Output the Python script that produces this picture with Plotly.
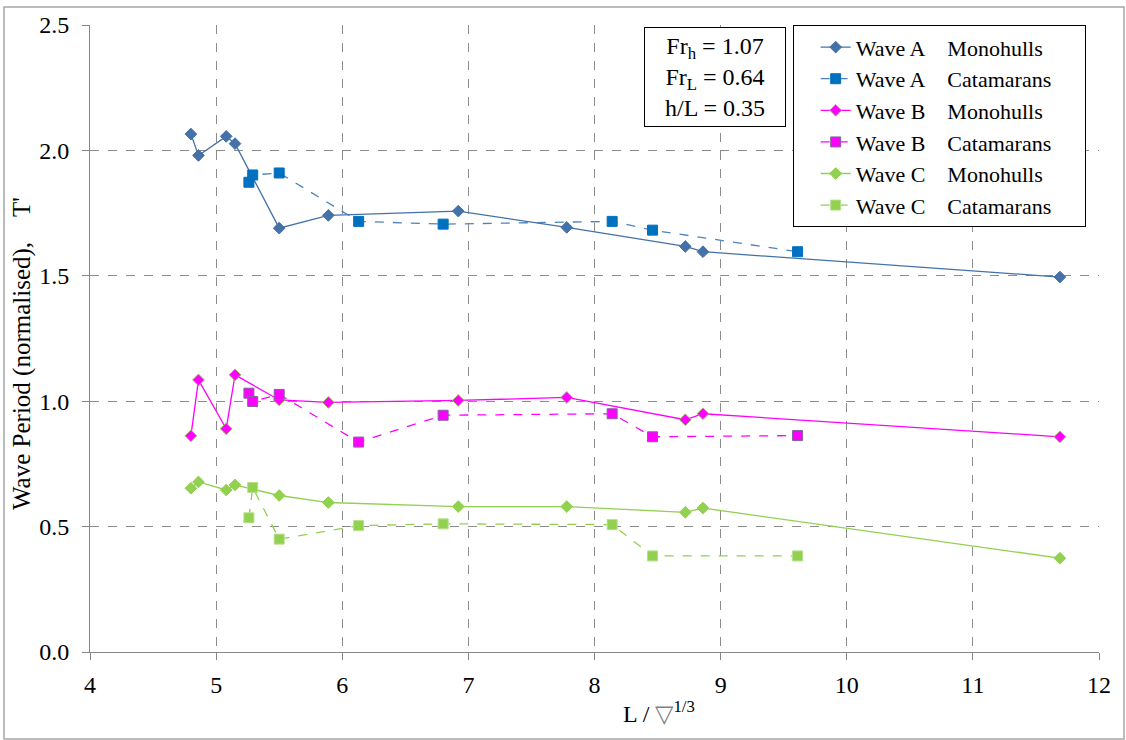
import plotly.graph_objects as go

# Slenderness ratio L / vol^(1/3) for each hull series
mono_x = [4.80, 4.86, 5.08, 5.15, 5.50, 5.89, 6.92, 7.78, 8.72, 8.86, 11.69]
cat_x = [5.26, 5.29, 5.50, 6.13, 6.80, 8.14, 8.46, 9.61]

# Normalised wave period T'
wave_a_mono = [2.065, 1.980, 2.056, 2.027, 1.690, 1.741, 1.758, 1.693, 1.617, 1.596, 1.495]
wave_a_cat = [1.873, 1.902, 1.910, 1.717, 1.706, 1.717, 1.682, 1.596]
wave_b_mono = [0.862, 1.085, 0.890, 1.105, 1.005, 0.995, 1.003, 1.015, 0.926, 0.950, 0.858]
wave_b_cat = [1.032, 0.999, 1.027, 0.837, 0.944, 0.950, 0.858, 0.863]
wave_c_mono = [0.653, 0.678, 0.646, 0.666, 0.624, 0.596, 0.580, 0.580, 0.557, 0.574, 0.374]
wave_c_cat = [0.535, 0.656, 0.450, 0.504, 0.511, 0.508, 0.383, 0.383]

NB = "\u00a0"
names = [
    "Wave A" + NB * 4 + "Monohulls",
    "Wave A" + NB * 4 + "Catamarans",
    "Wave B" + NB * 4 + "Monohulls",
    "Wave B" + NB * 4 + "Catamarans",
    "Wave C" + NB * 4 + "Monohulls",
    "Wave C" + NB * 4 + "Catamarans",
]

FONT = "Liberation Serif"

fig = go.Figure()

series = [
    (mono_x, wave_a_mono, names[0], "solid", "#4472A8", "diamond", 9, "#4472A8", "#4472A8"),
    (cat_x, wave_a_cat, names[1], "dash", "#4F81BD", "square", 10, "#0070C0", "#0070C0"),
    (mono_x, wave_b_mono, names[2], "solid", "#FF00FF", "diamond", 9, "#FF00FF", "#9BBB59"),
    (cat_x, wave_b_cat, names[3], "dash", "#FF00FF", "square", 10, "#FF00FF", "#8064A2"),
    (mono_x, wave_c_mono, names[4], "solid", "#92D050", "diamond", 9, "#92D050", "#92D050"),
    (cat_x, wave_c_cat, names[5], "dash", "#92D050", "square", 10, "#92D050", "#B5E08A"),
]

for i, (xs, ys, nm, dash, lc, sym, sz, mc, mlc) in enumerate(series):
    fig.add_trace(go.Scatter(
        x=xs, y=ys, name=nm + NB * 5, mode="lines+markers",
        legendgroup=f"g{i}",
        line=dict(color=lc, width=1.3, dash=dash),
        marker=dict(symbol=sym, size=sz, color=mc, line=dict(color=mlc, width=1)),
    ))

axis_common = dict(
    showline=True, linecolor="#868686", linewidth=1,
    ticks="outside", ticklen=7, tickcolor="#868686",
    showgrid=True, gridcolor="#8c8c8c", griddash="dash", gridwidth=1,
    zeroline=False, tickfont=dict(family=FONT, size=24, color="black"),
)

fig.update_xaxes(range=[4, 12], dtick=1, tick0=4, ticklabelstandoff=4, **axis_common)
fig.update_yaxes(range=[0, 2.5], dtick=0.5, tick0=0, tickformat=".1f", ticklabelstandoff=8,
                 **axis_common)

# Axis titles
fig.add_annotation(
    xref="paper", yref="paper", x=0.564, y=-0.0957, xanchor="center", yanchor="middle",
    text="L / <span style='color:#808080'>▽</span><sup>1/3</sup>",
    showarrow=False, font=dict(family=FONT, size=24, color="black"),
)
fig.add_annotation(
    xref="paper", yref="paper", x=-0.0674, y=0.4769, xanchor="center", yanchor="middle",
    text="Wave Period (normalised)," + NB * 4 + "T'", textangle=-90,
    showarrow=False, font=dict(family=FONT, size=25, color="black"),
)

# Flow parameters box
fig.add_annotation(
    xref="paper", yref="paper", x=0.6194, y=0.9965, xanchor="center", yanchor="top",
    text="Fr<sub>h</sub> = 1.07<br>Fr<sub>L</sub> = 0.64<br>h/L = 0.35",
    showarrow=False, align="center", valign="middle",
    font=dict(family=FONT, size=24, color="black"),
    bgcolor="white", bordercolor="black", borderwidth=1, borderpad=3,
    width=134, height=92,
)

# Chart-area frame
fig.add_shape(type="rect", xref="paper", yref="paper",
              x0=-0.0852, x1=1.0248, y0=-0.1388, y1=1.0287,
              line=dict(color="#a6a6a6", width=1.5), fillcolor="rgba(0,0,0,0)", layer="below")

fig.update_layout(
    width=1126, height=740,
    margin=dict(l=90, r=27, t=25, b=88),
    plot_bgcolor="white", paper_bgcolor="white",
    font=dict(family=FONT, size=23, color="black"),
    showlegend=True,
    legend=dict(
        x=0.6964, y=0.9995, xanchor="left", yanchor="top",
        bgcolor="white", bordercolor="black", borderwidth=1,
        font=dict(family=FONT, size=22, color="black"),
        traceorder="grouped", tracegroupgap=0, indentation=22,
    ),
)

fig.write_html("out.html")
